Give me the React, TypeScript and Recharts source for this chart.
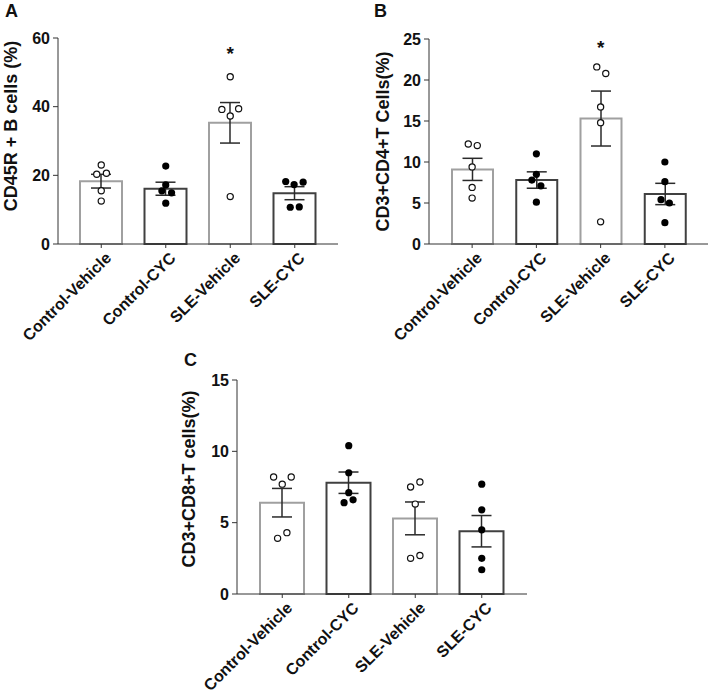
import React from 'react';
import { ComposedChart, Bar, Scatter, XAxis, YAxis, ErrorBar, Cell } from 'recharts';

const FONT = 'Arial, "Liberation Sans", Helvetica, sans-serif';

const groups = ['Control-Vehicle', 'Control-CYC', 'SLE-Vehicle', 'SLE-CYC'];
const isCyc = [false, true, false, true];

// A: CD45R + B cells
const bCellMeans = [18.3, 16.1, 35.3, 14.8];
const bCellSem = [2.0, 1.9, 5.9, 1.9];
const bCellPoints = [
  [23.0, 20.3, 20.6, 15.5, 12.5],
  [22.7, 17.2, 15.5, 14.9, 11.9],
  [48.7, 39.2, 39.4, 37.3, 13.8],
  [18.2, 17.3, 18.0, 10.7, 10.8],
];
const bCellJitter = [
  [0, -0.07, 0.08, 0, 0],
  [0, 0, -0.06, 0.09, 0],
  [0, -0.13, 0.13, 0, 0],
  [-0.14, -0.01, 0.13, -0.07, 0.07],
];
const bCellSig = [{ x: 2, y: 56.3 }];
const bCellTicks = [0, 20, 40, 60];

// B: CD3+CD4+ T cells
const cd4Means = [9.1, 7.8, 15.3, 6.1];
const cd4Sem = [1.35, 1.0, 3.35, 1.3];
const cd4Points = [
  [12.2, 12.0, 9.4, 6.9, 5.6],
  [11.0, 8.5, 7.8, 7.1, 5.1],
  [21.6, 20.8, 16.7, 14.8, 2.7],
  [10.0, 7.6, 5.4, 5.0, 2.6],
];
const cd4Jitter = [
  [-0.06, 0.08, 0, 0, 0],
  [0, 0, -0.07, 0.07, 0],
  [-0.06, 0.08, 0, 0, 0],
  [0, 0, -0.06, 0.07, 0],
];
const cd4Sig = [{ x: 2, y: 24.3 }];
const cd4Ticks = [0, 5, 10, 15, 20, 25];

// C: CD3+CD8+ T cells
const cd8Means = [6.4, 7.8, 5.3, 4.4];
const cd8Sem = [1.0, 0.75, 1.15, 1.1];
const cd8Points = [
  [8.2, 8.2, 7.7, 4.3, 3.9],
  [10.4, 8.5, 7.1, 6.4, 6.6],
  [7.5, 7.85, 6.3, 2.5, 2.7],
  [7.7, 5.9, 4.5, 2.5, 1.7],
];
const cd8Jitter = [
  [-0.13, 0.135, 0, 0.07, -0.07],
  [0, 0, 0, -0.07, 0.065],
  [-0.07, 0.07, 0, -0.07, 0.07],
  [0, 0, 0, 0, 0],
];
const cd8Sig: { x: number; y: number }[] = [];
const cd8Ticks = [0, 5, 10, 15];

const GroupTick = ({ x, y, payload }: any) => (
  <g transform={`translate(${x + 11},${y + 9}) rotate(-45)`}>
    <text textAnchor="end" fontFamily={FONT} fontWeight="bold" fontSize={16} fill="#111">
      {payload.value}
    </text>
  </g>
);

const OpenDot = ({ cx, cy }: any) => (
  <circle cx={cx} cy={cy} r={3.1} fill="#fff" stroke="#111" strokeWidth={1.2} />
);
const FilledDot = ({ cx, cy }: any) => <circle cx={cx} cy={cy} r={3.6} fill="#000" />;
const Star = ({ cx, cy }: any) => (
  <text x={cx} y={cy + 9} textAnchor="middle" fontFamily={FONT} fontWeight="bold" fontSize={19} fill="#111">
    *
  </text>
);

function Panel(props: any) {
  const { means, sems, points, jitter, sig, ticks, yLabel, box, labelX, labelDy, pad, barSize } = props;
  const data = groups.map((name, i) => ({ name, mean: means[i], sem: sems[i] }));
  const pts = points.flatMap((vals: number[], i: number) =>
    vals.map((v, j) => ({ x: i + jitter[i][j], y: v, cyc: isCyc[i] }))
  );
  const yMax = ticks[ticks.length - 1];

  return (
    <div style={{ position: 'absolute', left: box.left, top: box.top }}>
      <ComposedChart
        width={box.width}
        height={box.height}
        data={data}
        margin={{ top: box.mt, right: box.mr, left: 0, bottom: 0 }}
      >
        <XAxis
          dataKey="name"
          height={box.xh}
          interval={0}
          padding={{ left: pad, right: pad }}
          stroke="#333"
          tickSize={4}
          tickMargin={2}
          tick={<GroupTick />}
        />
        <XAxis xAxisId="num" dataKey="x" type="number" domain={[-0.5, 3.5]} padding={{ left: pad, right: pad }} hide />
        <YAxis
          width={box.yw}
          domain={[0, yMax]}
          ticks={ticks}
          interval={0}
          stroke="#333"
          tickSize={5}
          tickMargin={3}
          tick={{ fontFamily: FONT, fontWeight: 'bold', fontSize: 16, fill: '#111' }}
          label={{
            content: ({ viewBox }: any) => {
              const cx = viewBox.x + labelX;
              const cy = viewBox.y + viewBox.height / 2 + labelDy;
              return (
                <text
                  x={cx}
                  y={cy}
                  transform={`rotate(-90, ${cx}, ${cy})`}
                  textAnchor="middle"
                  fontFamily={FONT}
                  fontWeight="bold"
                  fontSize={18}
                  fill="#111"
                >
                  {yLabel}
                </text>
              );
            },
          }}
        />
        <Bar dataKey="mean" barSize={barSize} fill="#fff" strokeWidth={2} isAnimationActive={false}>
          {data.map((d, i) => (
            <Cell key={d.name} stroke={isCyc[i] ? '#404040' : '#a0a0a0'} />
          ))}
          <ErrorBar dataKey="sem" width={10} stroke="#2a2a2a" strokeWidth={1.5} />
        </Bar>
        <Scatter
          xAxisId="num"
          dataKey="y"
          data={pts.filter((p: any) => !p.cyc)}
          shape={<OpenDot />}
          isAnimationActive={false}
        />
        <Scatter
          xAxisId="num"
          dataKey="y"
          data={pts.filter((p: any) => p.cyc)}
          shape={<FilledDot />}
          isAnimationActive={false}
        />
        {sig.length > 0 && (
          <Scatter xAxisId="num" dataKey="y" data={sig} shape={<Star />} isAnimationActive={false} />
        )}
      </ComposedChart>
    </div>
  );
}

const letterStyle: React.CSSProperties = {
  position: 'absolute',
  fontFamily: FONT,
  fontWeight: 'bold',
  fontSize: 18,
  lineHeight: '18px',
  color: '#111',
};

export default function App() {
  return (
    <div style={{ position: 'absolute', left: 0, top: 0, width: 709, height: 695, background: '#fff' }}>
      <Panel
        means={bCellMeans}
        sems={bCellSem}
        points={bCellPoints}
        jitter={bCellJitter}
        sig={bCellSig}
        ticks={bCellTicks}
        yLabel="CD45R + B cells (%)"
        box={{ left: 0, top: 0, width: 340, height: 350, mt: 38, mr: 2, xh: 106, yw: 58 }}
        labelX={17}
        labelDy={-15}
        pad={11}
        barSize={42}
      />
      <Panel
        means={cd4Means}
        sems={cd4Sem}
        points={cd4Points}
        jitter={cd4Jitter}
        sig={cd4Sig}
        ticks={cd4Ticks}
        yLabel="CD3+CD4+T Cells(%)"
        box={{ left: 370, top: 0, width: 339, height: 350, mt: 39, mr: 1, xh: 106, yw: 59 }}
        labelX={19}
        labelDy={0}
        pad={11}
        barSize={41}
      />
      <Panel
        means={cd8Means}
        sems={cd8Sem}
        points={cd8Points}
        jitter={cd8Jitter}
        sig={cd8Sig}
        ticks={cd8Ticks}
        yLabel="CD3+CD8+T cells(%)"
        box={{ left: 160, top: 350, width: 380, height: 345, mt: 30, mr: 13, xh: 101, yw: 77 }}
        labelX={35}
        labelDy={-8}
        pad={12}
        barSize={44}
      />
      <div style={{ ...letterStyle, left: 5, top: 2 }}>A</div>
      <div style={{ ...letterStyle, left: 374, top: 2 }}>B</div>
      <div style={{ ...letterStyle, left: 184, top: 351 }}>C</div>
    </div>
  );
}
